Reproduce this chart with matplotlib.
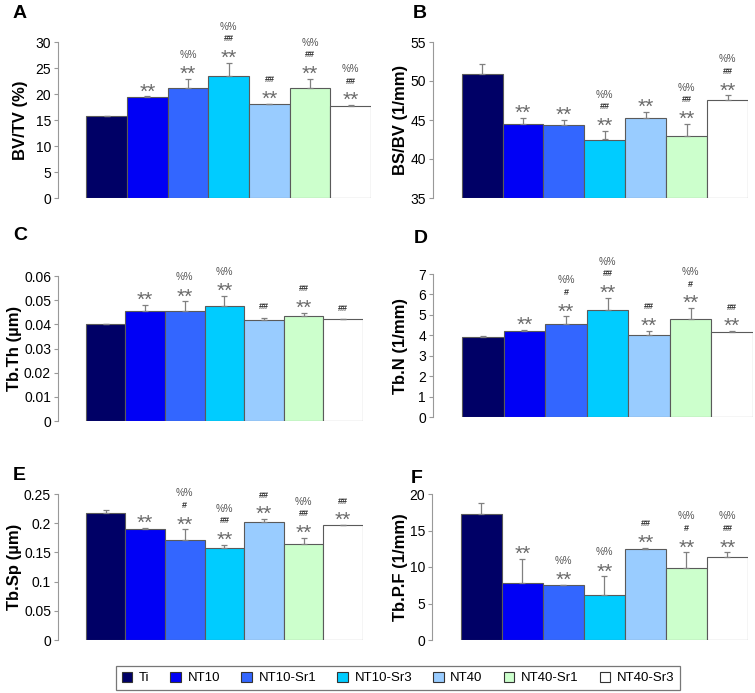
import matplotlib
matplotlib.use('Agg')
from matplotlib import pyplot as plt
from matplotlib.patches import Patch
import numpy as np

plt.rcParams['font.family'] = ['Liberation Sans', 'DejaVu Sans']

groups = ['Ti', 'NT10', 'NT10-Sr1', 'NT10-Sr3', 'NT40', 'NT40-Sr1', 'NT40-Sr3']
colors = ['#000066', '#0000f5', '#3366ff', '#00ccff', '#99ccff', '#ccffcc', '#ffffff']

# mean values and upper error for each panel
bvtv = [15.7, 19.4, 21.1, 23.5, 18.0, 21.2, 17.7]
bvtv_err = [0.15, 0.15, 1.8, 2.5, 0.1, 1.7, 0.15]
bsbv = [50.85, 44.45, 44.35, 42.5, 45.2, 43.0, 47.6]
bsbv_err = [1.3, 0.8, 0.65, 1.1, 0.85, 1.5, 0.55]
tbth = [0.0403, 0.0455, 0.0457, 0.0475, 0.0417, 0.0433, 0.0422]
tbth_err = [0.0, 0.0027, 0.0038, 0.0042, 0.0011, 0.0014, 0.0]
tbn = [3.9, 4.22, 4.57, 5.25, 4.02, 4.8, 4.15]
tbn_err = [0.05, 0.04, 0.35, 0.58, 0.2, 0.52, 0.05]
tbsp = [0.217, 0.1906, 0.1707, 0.157, 0.2026, 0.1638, 0.1963]
tbsp_err = [0.0056, 0.0012, 0.0188, 0.0057, 0.0044, 0.0112, 0.0006]
tbpf = [17.2, 7.85, 7.5, 6.2, 12.4, 9.9, 11.4]
tbpf_err = [1.5, 3.25, 0.1, 2.5, 0.25, 2.1, 0.6]

# significance marks, bottom to top
marks_a = [[], ['**'], ['**', '%%'], ['**', '##', '%%'], ['**', '##'], ['**', '##', '%%'], ['**', '##', '%%']]
marks_b = [[], ['**'], ['**'], ['**', '##', '%%'], ['**'], ['**', '##', '%%'], ['**', '##', '%%']]
marks_c = [[], ['**'], ['**', '%%'], ['**', '%%'], ['##'], ['**', '##'], ['##']]
marks_d = [[], ['**'], ['**', '#', '%%'], ['**', '##', '%%'], ['**', '##'], ['**', '#', '%%'], ['**', '##']]
marks_e = [[], ['**'], ['**', '#', '%%'], ['**', '##', '%%'], ['**', '##'], ['**', '##', '%%'], ['**', '##']]
marks_f = [[], ['**'], ['**', '%%'], ['**', '%%'], ['**', '##'], ['**', '#', '%%'], ['**', '##', '%%']]

W, H = 755, 693
fig = plt.figure(figsize=(W / 100, H / 100), dpi=100)

def px_axes(left, right, top, bottom):
    return fig.add_axes([left / W, 1 - bottom / H, (right - left) / W, (bottom - top) / H])

panels = [
    ('A', 'BV/TV (%)', bvtv, bvtv_err, marks_a, (0, 30), np.arange(0, 31, 5), (58, 371, 42, 198), (13, 5), 21),
    ('B', 'BS/BV (1/mm)', bsbv, bsbv_err, marks_b, (35, 55), np.arange(35, 56, 5), (433, 748, 42, 198), (413, 5), 400),
    ('C', 'Tb.Th (µm)', tbth, tbth_err, marks_c, (0, 0.06), np.arange(0, 0.061, 0.01), (58, 363, 276, 421), (13, 227), 15),
    ('D', 'Tb.N (1/mm)', tbn, tbn_err, marks_d, (0, 7), np.arange(0, 8, 1), (433, 753, 274, 417), (414, 230), 400),
    ('E', 'Tb.Sp (µm)', tbsp, tbsp_err, marks_e, (0, 0.25), np.arange(0, 0.26, 0.05), (58, 363, 494, 640), (13, 467), 15),
    ('F', 'Tb.P.F (1/mm)', tbpf, tbpf_err, marks_f, (0, 20), np.arange(0, 21, 5), (432, 748, 494, 640), (411, 470), 400),
]

def fmt(v):
    s = ('%.2f' % v).rstrip('0').rstrip('.')
    return s

x = np.arange(len(groups))
for letter, label, vals, errs, marks, ylim, ticks, box, lpos, ylx in panels:
    ax = px_axes(*box)
    base = ylim[0]
    heights = [v - base for v in vals]
    ax.bar(x, heights, width=1.0, bottom=base, color=colors, edgecolor='#5a5a5a', linewidth=0.8, zorder=2)
    ax.errorbar(x, vals, yerr=[np.zeros(len(errs)), errs], fmt='none', ecolor='#808080',
                elinewidth=0.9, capsize=2.5, capthick=0.9, zorder=3)
    for i in range(len(groups)):
        top = vals[i] + errs[i]
        for k, m in enumerate(marks[i]):
            if m == '**':
                ax.annotate('**', (x[i], top), xytext=(0, -1), textcoords='offset pixels',
                            ha='center', va='baseline', fontsize=15, color='#6a6a6a')
            elif m in ('##', '#'):
                off = 24 if k == 1 else 11
                ax.annotate(m, (x[i], top), xytext=(0, off), textcoords='offset pixels',
                            ha='center', va='center', fontsize=6.5, color='#333333', fontweight='bold')
            else:
                off = 36 if k == 2 else 24
                ax.annotate('%%', (x[i], top), xytext=(0, off), textcoords='offset pixels',
                            ha='center', va='center', fontsize=7, color='#555555')
    ax.set_xlim(-1.2, 6.5)
    ax.set_ylim(*ylim)
    ax.set_yticks(ticks)
    ax.set_yticklabels([fmt(t) for t in ticks], fontsize=10)
    ax.set_xticks([])
    for s in ['top', 'right', 'bottom']:
        ax.spines[s].set_visible(False)
    ax.spines['left'].set_color('#999999')
    ax.spines['left'].set_linewidth(0.8)
    ax.tick_params(axis='y', direction='out', length=3, width=0.8, color='#999999', pad=2)
    ax.patch.set_visible(False)
    cy = (box[2] + box[3]) / 2
    fig.text(ylx / W, 1 - cy / H, label, rotation=90, ha='center', va='center',
             fontsize=12, fontweight='bold')
    fig.text(lpos[0] / W, 1 - lpos[1] / H, letter, ha='left', va='top',
             fontsize=14, fontweight='bold')

handles = [Patch(facecolor=c, edgecolor='#333333', linewidth=0.8) for c in colors]
leg = fig.legend(handles, groups, loc='center', bbox_to_anchor=(398 / W, 1 - 678 / H), ncol=7,
                 fontsize=9.5, frameon=True, fancybox=False, handlelength=0.8, handleheight=0.8,
                 handletextpad=0.5, columnspacing=1.6, borderpad=0.45)
leg.get_frame().set_edgecolor('#555555')
leg.get_frame().set_linewidth(0.9)

fig.savefig('out.png', dpi=100)
